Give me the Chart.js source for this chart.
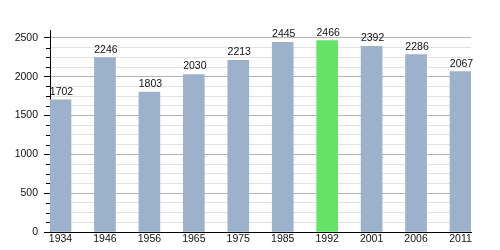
<!DOCTYPE html>
<html>
<head>
<meta charset="utf-8">
<script src="https://cdn.jsdelivr.net/npm/chart.js@4"></script>
<style>
  html, body { margin: 0; padding: 0; background: #fff; }
  #wrap { width: 500px; height: 250px; }
</style>
</head>
<body>
<div id="wrap"><canvas id="chartPoblacion"></canvas></div>
<script>
// datos
const years = ['1934', '1946', '1956', '1965', '1975', '1985', '1992', '2001', '2006', '2011']
const population = [1702, 2246, 1803, 2030, 2213, 2445, 2466, 2392, 2286, 2067]
const highlightYear = '1992'
const yMajorTicks = [0, 500, 1000, 1500, 2000, 2500]
const yMinorStep = 125

const barColor = '#9bb1cc'
const highlightColor = '#66e266'
const fontFamily = '"Liberation Sans", Arial, sans-serif'

// ticks cortos para las lineas menores
const minorTicks = {
    id: 'minorTicks',
    afterDraw(chart) {
        const y = chart.scales.y
        const ctx = chart.ctx
        ctx.save()
        ctx.strokeStyle = '#000'
        ctx.lineWidth = 1
        y.ticks.forEach((t) => {
            if (yMajorTicks.includes(t.value)) return
            const py = Math.round(y.getPixelForValue(t.value)) + 0.5
            ctx.beginPath()
            ctx.moveTo(y.right - 4, py)
            ctx.lineTo(y.right, py)
            ctx.stroke()
        })
        ctx.restore()
    }
}

// valores encima de las barras
const valueLabels = {
    id: 'valueLabels',
    afterDraw(chart) {
        const ctx = chart.ctx
        const meta = chart.getDatasetMeta(0)
        ctx.save()
        ctx.font = '10.5px ' + fontFamily
        ctx.fillStyle = '#111'
        ctx.textAlign = 'center'
        ctx.textBaseline = 'alphabetic'
        meta.data.forEach((bar, i) => {
            ctx.fillText(String(population[i]), bar.x + 1, bar.y - 5)
        })
        ctx.restore()
    }
}

const data = {
    datasets: [{
        label: 'Población',
        data: population.map((v, i) => ({ x: i, y: v })),
        backgroundColor: years.map((y) => y === highlightYear ? highlightColor : barColor),
        borderWidth: 0,
        barThickness: 21
    }]
}

const config = {
    type: 'bar',
    data: data,
    options: {
        responsive: true,
        maintainAspectRatio: false,
        animation: false,
        layout: { padding: { top: 30, right: 29, left: 0, bottom: 0 } },
        plugins: {
            legend: { display: false },
            tooltip: { enabled: false }
        },
        scales: {
            x: {
                type: 'linear',
                offset: false,
                min: -0.2365,
                max: 9.2365,
                afterBuildTicks: (axis) => { axis.ticks = years.map((y, i) => ({ value: i })) },
                afterFit: (s) => { s.height = 18 },
                grid: { display: false, drawTicks: false, offset: false },
                border: { display: true, color: '#000', width: 1 },
                ticks: {
                    padding: 1,
                    autoSkip: false,
                    maxRotation: 0,
                    color: '#111',
                    font: { family: fontFamily, size: 10.5 },
                    callback: (v) => years[v]
                }
            },
            y: {
                min: 0,
                max: 2603,
                afterBuildTicks: (axis) => {
                    const t = []
                    for (let v = 0; v <= yMajorTicks[yMajorTicks.length - 1]; v += yMinorStep) t.push({ value: v })
                    axis.ticks = t
                },
                afterFit: (s) => { s.width = 50 },
                grid: {
                    color: (c) => yMajorTicks.includes(c.tick.value) ? '#b4b4b4' : '#e2e2e2',
                    tickColor: (c) => yMajorTicks.includes(c.tick.value) ? '#000' : 'rgba(0,0,0,0)',
                    tickLength: 6,
                    drawTicks: true
                },
                border: { display: true, color: '#000', width: 1 },
                ticks: {
                    padding: 6,
                    autoSkip: false,
                    color: '#111',
                    font: { family: fontFamily, size: 10.5 },
                    callback: (v) => yMajorTicks.includes(v) ? String(v) : ''
                }
            }
        }
    },
    plugins: [minorTicks, valueLabels]
}

const canvasBarras = document.getElementById('chartPoblacion')
const graficoBarras = new Chart(canvasBarras, config)
</script>
</body>
</html>
